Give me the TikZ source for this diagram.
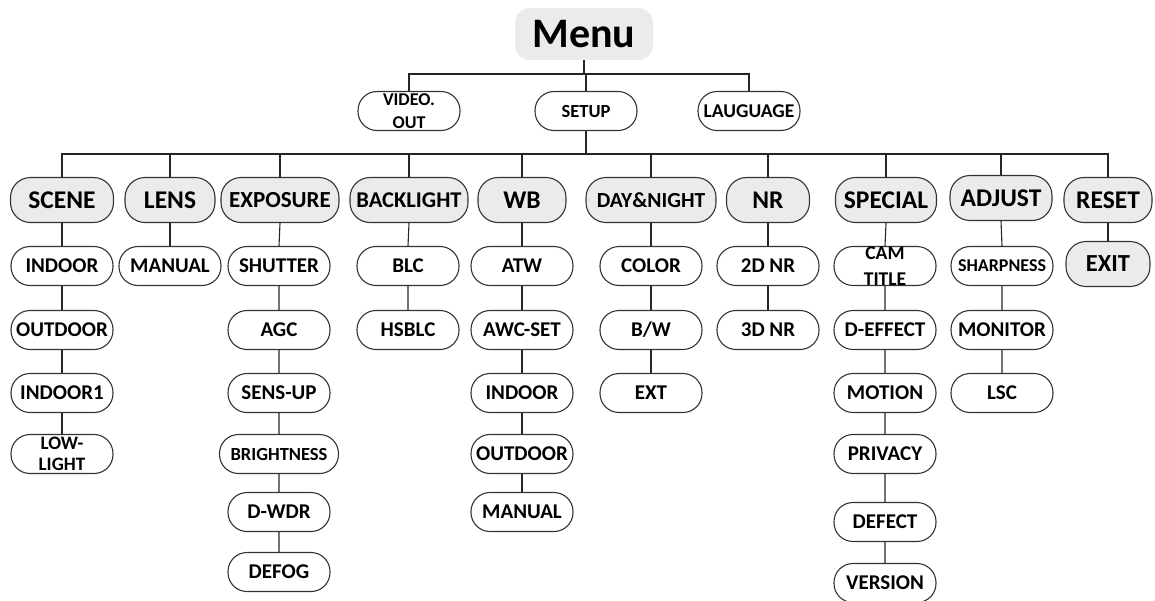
\documentclass[tikz,border=0pt]{standalone}
\usepackage{fontspec}
\setmainfont{Carlito}
\tikzset{
  box/.style={draw=black!80, line width=1.1pt, fill=white, rounded corners=19pt,
    minimum width=102pt, minimum height=39pt, inner sep=0pt, align=center,
    font=\fontsize{21}{22}\selectfont\bfseries},
  cat/.style={box, fill=black!8, rounded corners=20pt, minimum height=45pt,
    font=\fontsize{25.5}{26}\selectfont\bfseries},
  topbox/.style={box, font=\fontsize{18.5}{23}\selectfont\bfseries},
  link/.style={draw=black!85, line width=1.1pt},
}
\begin{document}
\begin{tikzpicture}[x=1pt,y=-1pt]
\useasboundingbox (0,0) rectangle (1155,600);
% root
\node[fill=black!8, rounded corners=15pt, minimum width=138pt, minimum height=52pt,
  inner sep=0pt, font=\fontsize{42}{42}\selectfont\bfseries] (menu) at (584,34) {Menu};
% level 1
\node[topbox, font=\fontsize{18}{23}\selectfont\bfseries] (video) at (409,111) {VIDEO.\\OUT};
\node[topbox] (setup) at (586,111) {SETUP};
\node[topbox, font=\fontsize{19.5}{20}\selectfont\bfseries] (lang)  at (749,111) {LAUGUAGE};
% level 2
\node[cat, minimum width=103pt] (scene) at (62,200) {SCENE};
\node[cat, minimum width=90pt]  (lens)  at (170,200) {LENS};
\node[cat, minimum width=118pt, font=\fontsize{23}{24}\selectfont\bfseries] (expo) at (280,200) {EXPOSURE};
\node[cat, minimum width=118pt, font=\fontsize{22.5}{23}\selectfont\bfseries] (back) at (409,200) {BACKLIGHT};
\node[cat, minimum width=88pt]  (wb)    at (522,200) {WB};
\node[cat, minimum width=130pt, font=\fontsize{21.5}{22}\selectfont\bfseries] (dn) at (651,200) {DAY\&NIGHT};
\node[cat, minimum width=83pt]  (nr)    at (768,200) {NR};
\node[cat, minimum width=101pt] (spec)  at (886,200) {SPECIAL};
\node[cat, minimum width=102pt] (adj)   at (1001,198) {ADJUST};
\node[cat, minimum width=88pt]  (reset) at (1108,200) {RESET};
% scene column
\node[box] (sc1) at (62,266) {INDOOR};
\node[box] (sc2) at (62,330) {OUTDOOR};
\node[box] (sc3) at (62,393) {INDOOR1};
\node[box, font=\fontsize{19}{21}\selectfont\bfseries] (sc4) at (62,454) {LOW-\\LIGHT};
% lens
\node[box] (le1) at (170,266) {MANUAL};
% exposure
\node[box] (ex1) at (279,266) {SHUTTER};
\node[box] (ex2) at (279,330) {AGC};
\node[box] (ex3) at (279,393) {SENS-UP};
\node[box, minimum width=119pt, font=\fontsize{18.5}{19}\selectfont\bfseries] (ex4) at (279,454) {BRIGHTNESS};
\node[box] (ex5) at (279,512) {D-WDR};
\node[box] (ex6) at (279,572) {DEFOG};
% backlight
\node[box] (bl1) at (408,266) {BLC};
\node[box] (bl2) at (408,330) {HSBLC};
% wb
\node[box] (wb1) at (522,266) {ATW};
\node[box] (wb2) at (522,330) {AWC-SET};
\node[box] (wb3) at (522,393) {INDOOR};
\node[box] (wb4) at (522,454) {OUTDOOR};
\node[box] (wb5) at (522,512) {MANUAL};
% day night
\node[box] (dn1) at (651,266) {COLOR};
\node[box] (dn2) at (651,330) {B/W};
\node[box] (dn3) at (651,393) {EXT};
% nr
\node[box] (nr1) at (768,266) {2D NR};
\node[box] (nr2) at (768,330) {3D NR};
% special
\node[box, font=\fontsize{19.5}{26}\selectfont\bfseries] (sp1) at (885,266) {CAM\\TITLE};
\node[box] (sp2) at (885,330) {D-EFFECT};
\node[box] (sp3) at (885,393) {MOTION};
\node[box] (sp4) at (885,454) {PRIVACY};
\node[box] (sp5) at (885,522) {DEFECT};
\node[box] (sp6) at (885,583) {VERSION};
% adjust
\node[box, font=\fontsize{18}{19}\selectfont\bfseries] (ad1) at (1002,266) {SHARPNESS};
\node[box] (ad2) at (1002,330) {MONITOR};
\node[box] (ad3) at (1002,393) {LSC};
% reset
\node[cat, minimum width=84pt, font=\fontsize{24.5}{25}\selectfont\bfseries] (exit) at (1108,264) {EXIT};
% connectors level 1
\coordinate (busA) at (0,74);
\coordinate (busB) at (0,154);
\draw[link] (video.north) |- (busA -| lang.north) -- (lang.north);
\draw[link] (menu.south) -- (menu.south |- busA);
\draw[link] (setup.north) -- (setup.north |- busA);
% connectors level 2
\draw[link] (scene.north) |- (busB -| reset.north) -- (reset.north);
\draw[link] (setup.south) -- (setup.south |- busB);
\foreach \n in {lens,expo,back,wb,dn,nr,spec,adj}
  \draw[link] (\n.north) -- (\n.north |- busB);
% columns
\draw[link] (scene.south) -- (sc1.north) (sc1.south) -- (sc2.north) (sc2.south) -- (sc3.north) (sc3.south) -- (sc4.north);
\draw[link] (lens.south) -- (le1.north);
\draw[link] (expo.south) -- (ex1.north) (ex1.south) -- (ex2.north) (ex2.south) -- (ex3.north)
  (ex3.south) -- (ex4.north) (ex4.south) -- (ex5.north) (ex5.south) -- (ex6.north);
\draw[link] (back.south) -- (bl1.north) (bl1.south) -- (bl2.north);
\draw[link] (wb.south) -- (wb1.north) (wb1.south) -- (wb2.north) (wb2.south) -- (wb3.north)
  (wb3.south) -- (wb4.north) (wb4.south) -- (wb5.north);
\draw[link] (dn.south) -- (dn1.north) (dn1.south) -- (dn2.north) (dn2.south) -- (dn3.north);
\draw[link] (nr.south) -- (nr1.north) (nr1.south) -- (nr2.north);
\draw[link] (spec.south) -- (sp1.north) (sp1.south) -- (sp2.north) (sp2.south) -- (sp3.north)
  (sp3.south) -- (sp4.north) (sp4.south) -- (sp5.north) (sp5.south) -- (sp6.north);
\draw[link] (adj.south) -- (ad1.north) (ad1.south) -- (ad2.north) (ad2.south) -- (ad3.north);
\draw[link] (reset.south) -- (exit.north);
\end{tikzpicture}
\end{document}
